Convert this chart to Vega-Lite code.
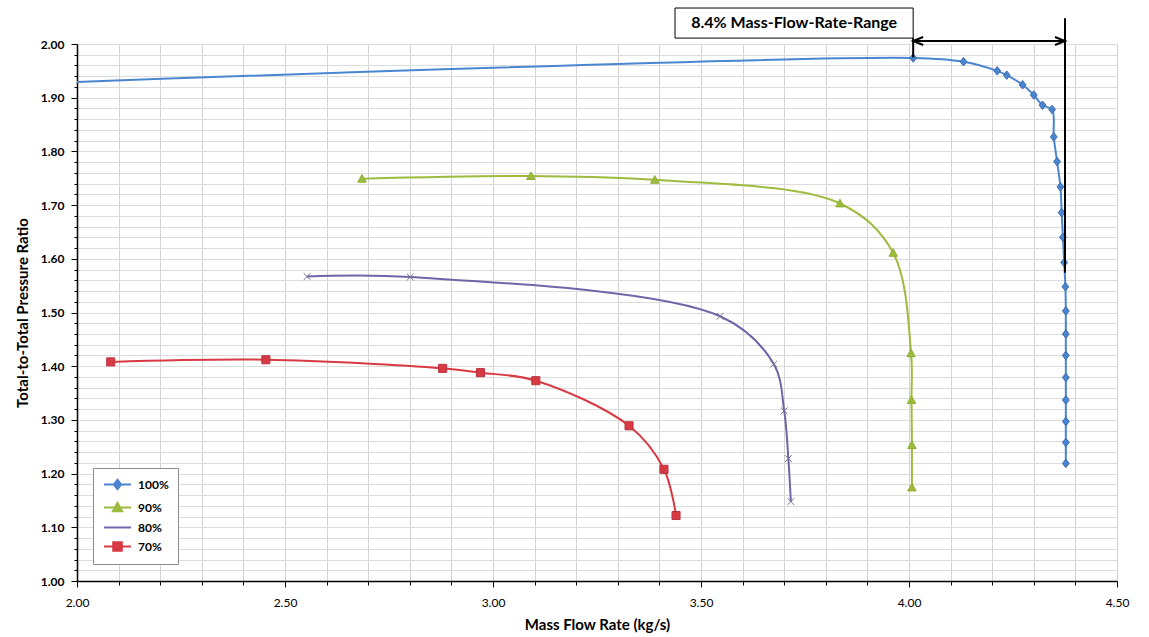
{
  "$schema": "https://vega.github.io/schema/vega-lite/v6.json",
  "width": 1040,
  "height": 537,
  "autosize": {"type": "none"},
  "padding": {"left": 77, "top": 44, "right": 32, "bottom": 56},
  "background": "white",
  "config": {"view": {"stroke": null}, "font": "Lato"},
  "datasets": {
    "series": [
      {"speed": "100%", "i": 0, "flow": 1.95, "ratio": 1.928},
      {"speed": "100%", "i": 1, "flow": 4.010, "ratio": 1.974},
      {"speed": "100%", "i": 2, "flow": 4.131, "ratio": 1.967},
      {"speed": "100%", "i": 3, "flow": 4.212, "ratio": 1.950},
      {"speed": "100%", "i": 4, "flow": 4.235, "ratio": 1.942},
      {"speed": "100%", "i": 5, "flow": 4.273, "ratio": 1.924},
      {"speed": "100%", "i": 6, "flow": 4.300, "ratio": 1.905},
      {"speed": "100%", "i": 7, "flow": 4.321, "ratio": 1.886},
      {"speed": "100%", "i": 8, "flow": 4.344, "ratio": 1.878},
      {"speed": "100%", "i": 9, "flow": 4.348, "ratio": 1.827},
      {"speed": "100%", "i": 10, "flow": 4.356, "ratio": 1.781},
      {"speed": "100%", "i": 11, "flow": 4.364, "ratio": 1.734},
      {"speed": "100%", "i": 12, "flow": 4.367, "ratio": 1.686},
      {"speed": "100%", "i": 13, "flow": 4.370, "ratio": 1.640},
      {"speed": "100%", "i": 14, "flow": 4.373, "ratio": 1.593},
      {"speed": "100%", "i": 15, "flow": 4.376, "ratio": 1.548},
      {"speed": "100%", "i": 16, "flow": 4.377, "ratio": 1.503},
      {"speed": "100%", "i": 17, "flow": 4.377, "ratio": 1.460},
      {"speed": "100%", "i": 18, "flow": 4.377, "ratio": 1.420},
      {"speed": "100%", "i": 19, "flow": 4.377, "ratio": 1.379},
      {"speed": "100%", "i": 20, "flow": 4.377, "ratio": 1.337},
      {"speed": "100%", "i": 21, "flow": 4.377, "ratio": 1.297},
      {"speed": "100%", "i": 22, "flow": 4.377, "ratio": 1.258},
      {"speed": "100%", "i": 23, "flow": 4.377, "ratio": 1.219},
      {"speed": "90%", "i": 0, "flow": 2.685, "ratio": 1.749},
      {"speed": "90%", "i": 1, "flow": 3.091, "ratio": 1.754},
      {"speed": "90%", "i": 2, "flow": 3.389, "ratio": 1.747},
      {"speed": "90%", "i": 3, "flow": 3.834, "ratio": 1.703},
      {"speed": "90%", "i": 4, "flow": 3.962, "ratio": 1.611},
      {"speed": "90%", "i": 5, "flow": 4.005, "ratio": 1.424},
      {"speed": "90%", "i": 6, "flow": 4.006, "ratio": 1.337},
      {"speed": "90%", "i": 7, "flow": 4.007, "ratio": 1.253},
      {"speed": "90%", "i": 8, "flow": 4.007, "ratio": 1.174},
      {"speed": "80%", "i": 0, "flow": 2.553, "ratio": 1.567},
      {"speed": "80%", "i": 1, "flow": 2.801, "ratio": 1.566},
      {"speed": "80%", "i": 2, "flow": 3.546, "ratio": 1.493},
      {"speed": "80%", "i": 3, "flow": 3.675, "ratio": 1.404},
      {"speed": "80%", "i": 4, "flow": 3.700, "ratio": 1.317},
      {"speed": "80%", "i": 5, "flow": 3.710, "ratio": 1.228},
      {"speed": "80%", "i": 6, "flow": 3.716, "ratio": 1.148},
      {"speed": "70%", "i": 0, "flow": 2.081, "ratio": 1.408},
      {"speed": "70%", "i": 1, "flow": 2.454, "ratio": 1.412},
      {"speed": "70%", "i": 2, "flow": 2.879, "ratio": 1.396},
      {"speed": "70%", "i": 3, "flow": 2.970, "ratio": 1.388},
      {"speed": "70%", "i": 4, "flow": 3.103, "ratio": 1.373},
      {"speed": "70%", "i": 5, "flow": 3.327, "ratio": 1.289},
      {"speed": "70%", "i": 6, "flow": 3.411, "ratio": 1.208},
      {"speed": "70%", "i": 7, "flow": 3.440, "ratio": 1.122}
    ],
    "rules": [
      {"flow": 4.01, "flow2": 4.375, "ratio": 2.0056, "ratio2": 2.0056},
      {"flow": 4.01, "flow2": 4.01, "ratio": 2.011, "ratio2": 1.975},
      {"flow": 4.375, "flow2": 4.375, "ratio": 2.048, "ratio2": 1.574}
    ],
    "heads": [
      {"flow": 4.01, "ratio": 2.0056, "dir": "left"},
      {"flow": 4.375, "ratio": 2.0056, "dir": "right"}
    ],
    "box": [
      {"flow": 3.4375, "flow2": 4.01, "ratio": 2.011, "ratio2": 2.067}
    ],
    "label": [
      {"flow": 3.724, "ratio": 2.039, "text": "8.4% Mass-Flow-Rate-Range"}
    ]
  },
  "encoding": {
    "x": {
      "field": "flow",
      "type": "quantitative",
      "scale": {"domain": [2, 4.5], "nice": false, "zero": false},
      "axis": {
        "title": "Mass Flow Rate (kg/s)",
        "values": [2, 2.1, 2.2, 2.3, 2.4, 2.5, 2.6, 2.7, 2.8, 2.9, 3, 3.1, 3.2, 3.3, 3.4, 3.5, 3.6, 3.7, 3.8, 3.9, 4, 4.1, 4.2, 4.3, 4.4, 4.5],
        "labelExpr": "abs(datum.value*2-round(datum.value*2))<0.001 ? format(datum.value,'.2f') : ''",
        "labelFlush": false,
        "labelOverlap": false,
        "grid": true,
        "gridColor": "#d4d4d4",
        "gridWidth": 1,
        "domainColor": "#000000",
        "domainWidth": 1.5,
        "tickColor": "#000000",
        "tickWidth": 1,
        "tickSize": {"condition": {"test": "abs(datum.value*2-round(datum.value*2))<0.001", "value": 6}, "value": 4},
        "labelFont": "Lato",
        "labelFontSize": 12,
        "labelColor": "#000000",
        "labelPadding": 10,
        "titleFont": "Lato",
        "titleFontSize": 15,
        "titleFontWeight": "bold",
        "titleColor": "#000000",
        "titlePadding": 9
      }
    },
    "y": {
      "field": "ratio",
      "type": "quantitative",
      "scale": {"domain": [1, 2], "nice": false, "zero": false},
      "axis": {
        "title": "Total-to-Total Pressure Ratio",
        "values": [1, 1.02, 1.04, 1.06, 1.08, 1.1, 1.12, 1.14, 1.16, 1.18, 1.2, 1.22, 1.24, 1.26, 1.28, 1.3, 1.32, 1.34, 1.36, 1.38, 1.4, 1.42, 1.44, 1.46, 1.48, 1.5, 1.52, 1.54, 1.56, 1.58, 1.6, 1.62, 1.64, 1.66, 1.68, 1.7, 1.72, 1.74, 1.76, 1.78, 1.8, 1.82, 1.84, 1.86, 1.88, 1.9, 1.92, 1.94, 1.96, 1.98, 2],
        "labelExpr": "abs(datum.value*10-round(datum.value*10))<0.001 ? format(datum.value,'.2f') : ''",
        "labelOverlap": false,
        "labelFlush": false,
        "grid": true,
        "gridColor": "#dcdcdc",
        "gridWidth": 1,
        "domainColor": "#000000",
        "domainWidth": 1.5,
        "tickColor": "#000000",
        "tickWidth": 1,
        "tickSize": {"condition": {"test": "abs(datum.value*10-round(datum.value*10))<0.001", "value": 6}, "value": 3},
        "labelFont": "Lato",
        "labelFontSize": 12,
        "labelFontWeight": "bold",
        "labelColor": "#000000",
        "labelPadding": 7,
        "titleFont": "Lato",
        "titleFontSize": 15,
        "titleFontWeight": "bold",
        "titleColor": "#000000",
        "titlePadding": 10
      }
    }
  },
  "layer": [
    {
      "data": {"name": "series"},
      "mark": {"type": "line", "interpolate": "catmull-rom", "strokeWidth": 2, "clip": true},
      "encoding": {
        "order": {"field": "i", "type": "quantitative"},
        "color": {
          "field": "speed",
          "type": "nominal",
          "scale": {"domain": ["100%", "90%", "80%", "70%"], "range": ["#4a86cf", "#9dbb3d", "#6f66a8", "#d83a44"]},
          "legend": {
            "title": null,
            "orient": "none",
            "legendX": 16,
            "legendY": 424,
            "padding": 9,
            "strokeColor": "#8c8c8c",
            "fillColor": "#ffffff",
            "symbolSize": 150,
            "symbolOffset": 8,
            "symbolStrokeWidth": 2,
            "symbolType": {"expr": "datum.value == '100%' ? 'M-2.2,0L2.2,0M0,-0.75L0.6,0L0,0.75L-0.6,0Z' : datum.value == '90%' ? 'M-2.2,0L2.2,0M0,-0.75L0.75,0.6L-0.75,0.6Z' : datum.value == '80%' ? 'M-2.2,0L2.2,0' : 'M-2.2,0L2.2,0M-0.7,-0.7L0.7,-0.7L0.7,0.7L-0.7,0.7Z'"},
            "symbolStrokeColor": {"expr": "scale('color', datum.value)"},
            "symbolFillColor": {"expr": "scale('color', datum.value)"},
            "labelOffset": 13,
            "labelFont": "Lato",
            "labelFontSize": 12,
            "labelFontWeight": "bold",
            "labelColor": "#000000",
            "rowPadding": 4
          }
        }
      }
    },
    {
      "data": {"name": "series"},
      "transform": [{"filter": "datum.speed == '100%'"}],
      "mark": {"type": "point", "shape": "M0,-1L0.8,0L0,1L-0.8,0Z", "filled": true, "fill": "#4a86cf", "stroke": "#3a6bb0", "opacity": 1, "size": 72, "strokeWidth": 1, "clip": true},
      "encoding": {}
    },
    {
      "data": {"name": "series"},
      "transform": [{"filter": "datum.speed == '90%'"}],
      "mark": {"type": "point", "shape": "M0,-1L1,0.8L-1,0.8Z", "filled": true, "fill": "#9dbb3d", "stroke": "#8fae34", "opacity": 1, "size": 72, "strokeWidth": 1, "clip": true},
      "encoding": {}
    },
    {
      "data": {"name": "series"},
      "transform": [{"filter": "datum.speed == '80%'"}],
      "mark": {"type": "point", "shape": "M-0.8,-0.8L0.8,0.8M-0.8,0.8L0.8,-0.8", "filled": false, "stroke": "#6e6e8c", "opacity": 1, "size": 72, "strokeWidth": 1, "clip": true},
      "encoding": {}
    },
    {
      "data": {"name": "series"},
      "transform": [{"filter": "datum.speed == '70%'"}],
      "mark": {"type": "point", "shape": "M-0.95,-0.95L0.95,-0.95L0.95,0.95L-0.95,0.95Z", "filled": true, "fill": "#d83a44", "stroke": "#b8323f", "opacity": 1, "size": 72, "strokeWidth": 1, "clip": true},
      "encoding": {}
    },
    {
      "data": {"name": "box"},
      "mark": {"type": "rect", "fill": "#ffffff", "stroke": "#000000", "strokeWidth": 1, "clip": false},
      "encoding": {
        "x2": {"field": "flow2"},
        "y2": {"field": "ratio2"}
      }
    },
    {
      "data": {"name": "label"},
      "mark": {"type": "text", "font": "Lato", "fontSize": 16, "fontWeight": "bold", "color": "#000000", "align": "center", "baseline": "middle", "clip": false},
      "encoding": {
        "text": {"field": "text", "type": "nominal"}
      }
    },
    {
      "data": {"name": "rules"},
      "mark": {"type": "rule", "color": "#000000", "strokeWidth": 2, "clip": false},
      "encoding": {
        "x2": {"field": "flow2"},
        "y2": {"field": "ratio2"}
      }
    },
    {
      "data": {"name": "heads"},
      "transform": [{"filter": "datum.dir == 'left'"}],
      "mark": {"type": "point", "shape": "M2.5,-1L0,0L2.5,1", "size": 64, "filled": false, "stroke": "#000000", "strokeWidth": 2, "opacity": 1, "clip": false},
      "encoding": {}
    },
    {
      "data": {"name": "heads"},
      "transform": [{"filter": "datum.dir == 'right'"}],
      "mark": {"type": "point", "shape": "M-2.5,-1L0,0L-2.5,1", "size": 64, "filled": false, "stroke": "#000000", "strokeWidth": 2, "opacity": 1, "clip": false},
      "encoding": {}
    }
  ]
}
